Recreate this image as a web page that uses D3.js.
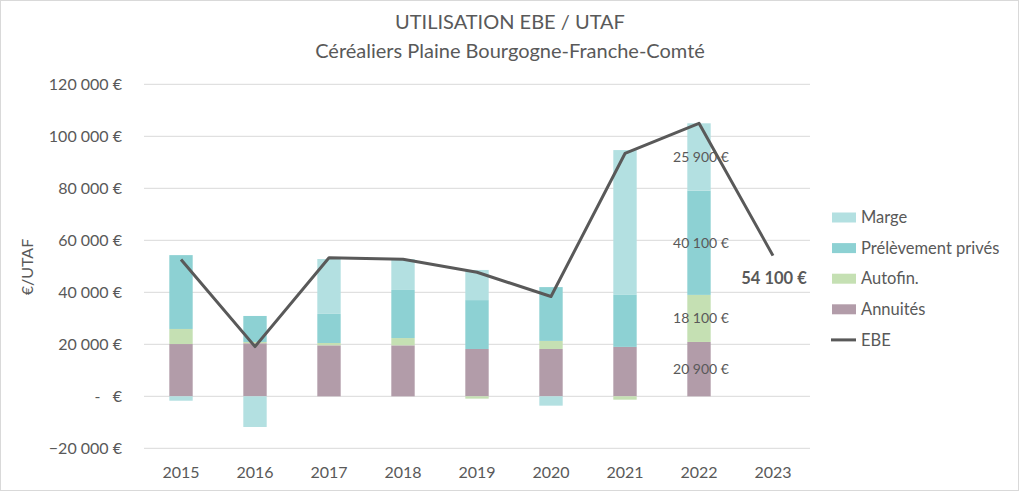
<!DOCTYPE html>
<html>
<head>
<meta charset="utf-8">
<script src="https://cdn.jsdelivr.net/npm/d3@7"></script>
<style>
  body { margin: 0; background: #fff; }
  svg text { font-family: Lato, "Open Sans", sans-serif; fill: #595959; white-space: pre; }
</style>
</head>
<body>
<div id="chart"></div>
<script>
// values (€/UTAF)
const years = ["2015", "2016", "2017", "2018", "2019", "2020", "2021", "2022", "2023"];
const annuites = [20100, 20400, 19600, 19600, 18200, 18200, 19000, 20900, 0];
const autofin = [5800, 500, 900, 2800, -900, 3100, -1300, 18100, 0];
const prelevements = [28400, 10000, 11200, 18500, 18800, 20700, 20000, 40100, 0];
const marge = [-1700, -11800, 21100, 11900, 11600, -3600, 55700, 25900, 0];
const ebe = [52600, 19100, 53300, 52700, 47700, 38400, 93400, 105000, 54100];
const yTicks = [-20000, 0, 20000, 40000, 60000, 80000, 100000, 120000];

const config = {
    "text-color": "#595959",
    "grid-color": "#d9d9d9"
};

const series = [
    {key: "annuites", name: "Annuités", color: "#b29ca9", values: annuites},
    {key: "autofin", name: "Autofin.", color: "#c5e0b3", values: autofin},
    {key: "prelev", name: "Prélèvement privés", color: "#8dd1d3", values: prelevements},
    {key: "marge", name: "Marge", color: "#b3e0e1", values: marge}
];

const width = 1021, height = 492;
const plot = {left: 144, right: 810, top: 84.3, bottom: 448.3};

const svg = d3.select("#chart").append("svg")
    .attr("width", width)
    .attr("height", height);

// chart border
svg.append("rect")
    .attr("x", 0.5).attr("y", 0.5)
    .attr("width", width - 3).attr("height", height - 2)
    .attr("fill", "#fff")
    .attr("stroke", config["grid-color"]);

// titles
svg.append("text")
    .attr("x", 510).attr("y", 29)
    .attr("text-anchor", "middle")
    .style("font-size", "20px")
    .text("UTILISATION EBE / UTAF");
svg.append("text")
    .attr("x", 510).attr("y", 58)
    .attr("text-anchor", "middle")
    .style("font-size", "20px")
    .text("Céréaliers Plaine Bourgogne-Franche-Comté");

const x = d3.scaleBand()
    .domain(years)
    .range([plot.left, plot.right])
    .paddingInner(0.684)
    .paddingOuter(0.342);

const y = d3.scaleLinear()
    .domain([-20000, 120000])
    .range([plot.bottom, plot.top]);

const fmt = v => v === 0 ? "-\u00a0\u00a0\u00a0€" : d3.format(",")(v).replace(/,/g, "\u00a0") + "\u00a0€";

// grid + y labels
const grid = svg.append("g");
grid.selectAll("line")
    .data(yTicks)
    .enter().append("line")
    .attr("x1", plot.left).attr("x2", plot.right)
    .attr("y1", d => y(d)).attr("y2", d => y(d))
    .attr("stroke", config["grid-color"])
    .attr("stroke-width", 1);

svg.append("g").selectAll("text")
    .data(yTicks)
    .enter().append("text")
    .attr("x", 122)
    .attr("y", d => y(d))
    .attr("dy", "0.35em")
    .attr("text-anchor", "end")
    .style("font-size", "16px")
    .text(fmt);

svg.append("text")
    .attr("transform", "translate(33, 267) rotate(-90)")
    .attr("text-anchor", "middle")
    .style("font-size", "16px")
    .text("€/UTAF");

// x labels
svg.append("g").selectAll("text")
    .data(years)
    .enter().append("text")
    .attr("x", d => x(d) + x.bandwidth() / 2)
    .attr("y", 472)
    .attr("dy", "0.35em")
    .attr("text-anchor", "middle")
    .style("font-size", "16px")
    .text(d => d);

// stacked bars
const rows = years.map((yr, i) => {
    let r = {year: yr};
    series.forEach(s => { r[s.key] = s.values[i]; });
    return r;
});

const stack = d3.stack()
    .keys(series.map(s => s.key))
    .offset(d3.stackOffsetDiverging);
const stacked = stack(rows);

const bars = svg.append("g");
stacked.forEach((layer, li) => {
    bars.append("g")
        .attr("fill", series[li].color)
        .selectAll("rect")
        .data(layer)
        .enter().append("rect")
        .attr("x", d => x(d.data.year))
        .attr("width", x.bandwidth())
        .attr("y", d => y(Math.max(d[0], d[1])))
        .attr("height", d => Math.abs(y(d[0]) - y(d[1])));
});

// value labels for 2022
const labelYear = "2022";
stacked.forEach(layer => {
    let d = layer.find(p => p.data.year === labelYear);
    let v = d.data[layer.key];
    svg.append("text")
        .attr("x", x(labelYear) + x.bandwidth() / 2 + 2)
        .attr("y", y((d[0] + d[1]) / 2))
        .attr("dy", "0.35em")
        .attr("text-anchor", "middle")
        .style("font-size", "14px")
        .text(fmt(v));
});

// EBE line
const line = d3.line()
    .x((d, i) => x(years[i]) + x.bandwidth() / 2)
    .y(d => y(d));

svg.append("path")
    .datum(ebe)
    .attr("fill", "none")
    .attr("stroke", "#595959")
    .attr("stroke-width", 3)
    .attr("stroke-linejoin", "round")
    .attr("d", line);

// last EBE value
const lastIdx = ebe.length - 1;
svg.append("text")
    .attr("x", x(years[lastIdx]) + x.bandwidth() / 2 + 1)
    .attr("y", y(ebe[lastIdx]) + 23)
    .attr("dy", "0.35em")
    .attr("text-anchor", "middle")
    .style("font-size", "16.5px")
    .style("font-weight", "bold")
    .text(fmt(ebe[lastIdx]));

// legend
const legendItems = [
    {name: "Marge", color: "#b3e0e1", type: "rect"},
    {name: "Prélèvement privés", color: "#8dd1d3", type: "rect"},
    {name: "Autofin.", color: "#c5e0b3", type: "rect"},
    {name: "Annuités", color: "#b29ca9", type: "rect"},
    {name: "EBE", color: "#595959", type: "line"}
];

const legend = svg.append("g");
const legends = legend.selectAll("g")
    .data(legendItems)
    .enter().append("g")
    .attr("transform", (d, i) => `translate(832, ${217.5 + i * 30.6})`);

legends.filter(d => d.type === "rect").append("rect")
    .attr("x", 0).attr("y", -5)
    .attr("width", 24).attr("height", 10)
    .attr("fill", d => d.color);

legends.filter(d => d.type === "line").append("line")
    .attr("x1", -1).attr("x2", 24)
    .attr("y1", 0).attr("y2", 0)
    .attr("stroke", d => d.color)
    .attr("stroke-width", 3);

legends.append("text")
    .attr("x", 29)
    .attr("dy", "0.35em")
    .style("font-size", "16.5px")
    .text(d => d.name);
</script>
</body>
</html>
